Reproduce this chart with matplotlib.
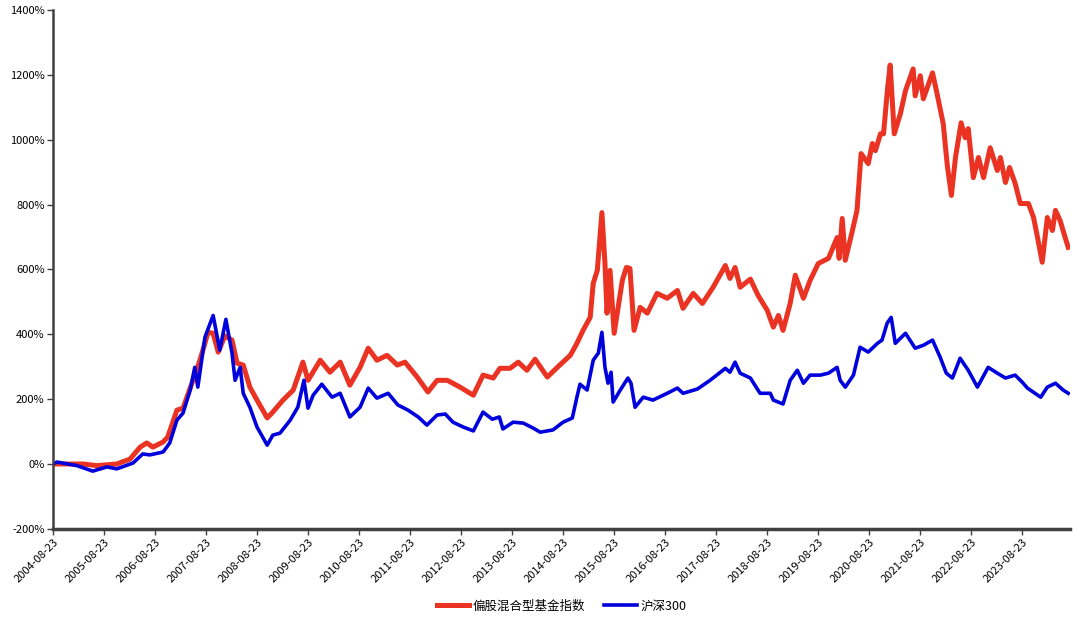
import numpy as np
import matplotlib
matplotlib.use('Agg')
import matplotlib.pyplot as plt

plt.rcParams['font.family'] = ['Noto Sans CJK SC', 'DejaVu Sans']

# time axis in decimal years, values in % (cumulative return)
red_t = [2004.64, 2005.23, 2005.50, 2005.89, 2006.15, 2006.35, 2006.48, 2006.60, 2006.80, 2006.89,
         2007.07, 2007.19, 2007.33, 2007.46, 2007.58, 2007.68, 2007.78, 2007.88, 2008.01, 2008.15,
         2008.25, 2008.37, 2008.50, 2008.64, 2008.84, 2008.95, 2009.15, 2009.35, 2009.54, 2009.64,
         2009.88, 2010.07, 2010.27, 2010.46, 2010.66, 2010.82, 2010.99, 2011.19, 2011.39, 2011.54,
         2011.78, 2011.99, 2012.17, 2012.37, 2012.62, 2012.88, 2013.07, 2013.27, 2013.40, 2013.60,
         2013.76, 2013.93, 2014.09, 2014.33, 2014.54, 2014.78, 2014.91, 2015.03, 2015.17, 2015.23,
         2015.31, 2015.40, 2015.46, 2015.50, 2015.56, 2015.64, 2015.80, 2015.88, 2015.95, 2016.03,
         2016.15, 2016.29, 2016.48, 2016.68, 2016.88, 2016.99, 2017.19, 2017.37, 2017.58, 2017.82,
         2017.91, 2018.01, 2018.11, 2018.31, 2018.46, 2018.64, 2018.76, 2018.86, 2018.95, 2019.09,
         2019.19, 2019.35, 2019.48, 2019.64, 2019.84, 2020.01, 2020.05, 2020.11, 2020.17, 2020.31,
         2020.40, 2020.48, 2020.62, 2020.70, 2020.76, 2020.86, 2020.92, 2021.00, 2021.05, 2021.13,
         2021.25, 2021.35, 2021.50, 2021.54, 2021.64, 2021.70, 2021.88, 2021.97, 2022.09, 2022.17,
         2022.25, 2022.33, 2022.44, 2022.52, 2022.58, 2022.68, 2022.78, 2022.88, 2023.01, 2023.15,
         2023.21, 2023.31, 2023.39, 2023.50, 2023.60, 2023.76, 2023.86, 2023.93, 2024.03, 2024.13,
         2024.23, 2024.29, 2024.38, 2024.48, 2024.54]
red_v = [0, 0, -5, 0, 15, 52, 65, 52, 68, 83,
         166, 172, 234, 289, 351, 406, 403, 345, 395, 382,
         311, 305, 237, 197, 142, 160, 197, 228, 314, 258,
         320, 283, 314, 243, 298, 357, 320, 335, 305, 314,
         268, 222, 258, 258, 237, 212, 274, 265, 295, 295,
         314, 289, 323, 268, 300, 335, 372, 412, 452, 557,
         597, 775, 618, 465, 597, 403, 566, 606, 603, 412,
         483, 465, 526, 511, 535, 480, 526, 495, 545, 612,
         572, 606, 545, 570, 520, 474, 422, 458, 412, 495,
         582, 511, 566, 618, 634, 698, 634, 757, 628, 720,
         782, 957, 926, 988, 966, 1018, 1018, 1160, 1230, 1018,
         1080, 1151, 1218, 1135, 1197, 1126, 1206, 1141, 1049, 920,
         828, 945, 1052, 1006, 1034, 883, 945, 883, 975, 905,
         945, 868, 914, 865, 803, 803, 760, 705, 622, 760,
         720, 782, 751, 698, 668]

blue_t = [2004.64, 2004.72, 2005.11, 2005.42, 2005.70, 2005.89, 2006.21, 2006.40, 2006.54, 2006.80,
          2006.93, 2007.07, 2007.19, 2007.33, 2007.42, 2007.48, 2007.62, 2007.78, 2007.91, 2008.03,
          2008.15, 2008.21, 2008.31, 2008.37, 2008.50, 2008.64, 2008.84, 2008.95, 2009.09, 2009.29,
          2009.44, 2009.56, 2009.64, 2009.74, 2009.91, 2010.11, 2010.27, 2010.46, 2010.66, 2010.82,
          2010.99, 2011.21, 2011.40, 2011.60, 2011.80, 2011.97, 2012.17, 2012.33, 2012.48, 2012.68,
          2012.88, 2013.07, 2013.25, 2013.39, 2013.46, 2013.66, 2013.86, 2014.05, 2014.19, 2014.44,
          2014.64, 2014.82, 2014.91, 2014.97, 2015.11, 2015.23, 2015.33, 2015.40, 2015.46, 2015.52,
          2015.58, 2015.62, 2015.76, 2015.91, 2015.97, 2016.05, 2016.21, 2016.40, 2016.68, 2016.88,
          2016.99, 2017.27, 2017.52, 2017.82, 2017.91, 2018.01, 2018.11, 2018.31, 2018.50, 2018.70,
          2018.76, 2018.95, 2019.09, 2019.23, 2019.35, 2019.48, 2019.68, 2019.84, 2020.01, 2020.07,
          2020.17, 2020.33, 2020.46, 2020.62, 2020.80, 2020.89, 2020.99, 2021.07, 2021.15, 2021.35,
          2021.54, 2021.70, 2021.88, 2022.03, 2022.15, 2022.27, 2022.42, 2022.58, 2022.76, 2022.97,
          2023.15, 2023.31, 2023.50, 2023.64, 2023.74, 2024.00, 2024.13, 2024.29, 2024.44, 2024.54]
blue_v = [0, 6, -5, -22, -9, -15, 3, 31, 28, 37,
          65, 135, 157, 228, 298, 237, 391, 458, 351, 446,
          342, 258, 298, 218, 175, 114, 58, 89, 95, 135,
          175, 258, 172, 212, 246, 206, 218, 145, 175, 234,
          203, 218, 182, 166, 145, 120, 151, 154, 129, 114,
          102, 160, 138, 145, 108, 129, 126, 111, 98, 105,
          129, 142, 206, 246, 228, 320, 342, 406, 298, 249,
          283, 191, 228, 265, 249, 175, 206, 197, 218, 234,
          218, 231, 258, 295, 283, 314, 280, 265, 218, 218,
          197, 185, 258, 289, 249, 274, 274, 280, 298, 258,
          237, 274, 360, 345, 372, 382, 434, 452, 372, 403,
          357, 366, 382, 329, 280, 265, 326, 289, 237, 298,
          280, 265, 274, 252, 234, 206, 237, 249, 228, 218]

tick_years = list(range(2004, 2024))
tick_labels = ['%d-08-23' % y for y in tick_years]

fig = plt.figure(figsize=(10.8, 6.2), dpi=100)
ax = fig.add_axes([0.049, 0.147, 0.942, 0.837])

ax.plot(red_t, red_v, color='#EA3323', lw=3.6, label='偏股混合型基金指数')
ax.plot(blue_t, blue_v, color='#0000DD', lw=2.6, label='沪深300')

ax.set_ylim(-200, 1400)
ax.set_yticks(np.arange(-200, 1401, 200))
ax.set_yticklabels(['%d%%' % v for v in range(-200, 1401, 200)], fontsize=8)
ax.set_xlim(2004.64, 2024.58)
ax.set_xticks([y + 0.64 for y in tick_years])
ax.set_xticklabels(tick_labels, rotation=45, ha='right', rotation_mode='anchor', fontsize=8)

for s in ['top', 'right']:
    ax.spines[s].set_visible(False)
ax.spines['left'].set_color('#404040')
ax.spines['left'].set_linewidth(1.8)
ax.spines['bottom'].set_color('#404040')
ax.spines['bottom'].set_linewidth(2.5)
ax.tick_params(axis='both', direction='out', length=4, width=1, color='#404040', pad=2)

ax.legend(loc='upper center', bbox_to_anchor=(0.5, -0.115), ncol=2, frameon=False,
          fontsize=9, handlelength=2.6, columnspacing=1.5, handletextpad=0.3)

fig.savefig('out.png', dpi=100)
